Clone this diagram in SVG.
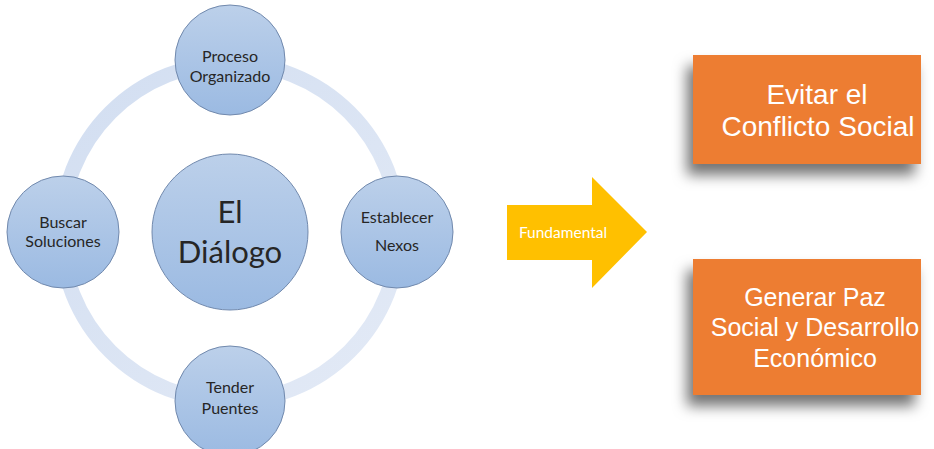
<svg xmlns="http://www.w3.org/2000/svg" width="934" height="449" viewBox="0 0 934 449">
<defs>
<linearGradient id="cg" x1="0" y1="0" x2="0" y2="1">
<stop offset="0" stop-color="#bcd0ea"/>
<stop offset="1" stop-color="#9bbae2"/>
</linearGradient>
<linearGradient id="rg" x1="0" y1="0" x2="1" y2="1">
<stop offset="0" stop-color="#d2def1"/>
<stop offset="1" stop-color="#e3eaf6"/>
</linearGradient>
<filter id="sh" x="-20%" y="-20%" width="140%" height="160%">
<feDropShadow dx="-6" dy="11" stdDeviation="7" flood-color="#000" flood-opacity="0.55"/>
</filter>
</defs>
<style>
.c{fill:url(#cg);stroke:#7189ad;stroke-width:1}
.t{font-family:Lato,"Open Sans",sans-serif;fill:#262626;text-anchor:middle}
.s{font-size:16px}
.b{font-size:31px}
.box{fill:#ed7d31;filter:url(#sh)}
.w{font-family:"Liberation Sans",Arial,sans-serif;fill:#fff;text-anchor:middle}
</style>
<rect width="934" height="449" fill="#fff"/>
<g id="connectors">
<circle cx="230" cy="232" r="169" fill="none" stroke="url(#rg)" stroke-width="15"/>
</g>
<g id="center">
<circle class="c" cx="230" cy="232" r="78"/>
<text class="t b" x="230" y="223">El</text>
<text class="t b" x="230" y="263">Diálogo</text>
</g>
<g id="top">
<circle class="c" cx="230" cy="60" r="55"/>
<text class="t s" x="230" y="62">Proceso</text>
<text class="t s" x="230" y="82">Organizado</text>
</g>
<g id="left">
<circle class="c" cx="63" cy="232" r="56"/>
<text class="t s" x="63" y="228">Buscar</text>
<text class="t s" x="63" y="247">Soluciones</text>
</g>
<g id="right">
<circle class="c" cx="397" cy="232" r="56"/>
<text class="t s" x="397" y="223">Establecer</text>
<text class="t s" x="397" y="251">Nexos</text>
</g>
<g id="bottom">
<circle class="c" cx="230" cy="401" r="55"/>
<text class="t s" x="230" y="393">Tender</text>
<text class="t s" x="230" y="414">Puentes</text>
</g>
<g id="arrow">
<polygon points="507,205 592,205 592,177 647,232 592,288 592,260 507,260" fill="#ffc000"/>
<text x="563" y="238" font-family="Lato,'Open Sans',sans-serif" font-size="15.5" fill="#fff" text-anchor="middle">Fundamental</text>
</g>
<g id="box1">
<rect class="box" x="693" y="55" width="228" height="109"/>
<text class="w" x="817" y="104" font-size="28">Evitar el</text>
<text class="w" x="818" y="136" font-size="28">Conflicto Social</text>
</g>
<g id="box2">
<rect class="box" x="693" y="259" width="228" height="136"/>
<text class="w" x="815" y="306" font-size="25">Generar Paz</text>
<text class="w" x="815" y="336" font-size="25">Social y Desarrollo</text>
<text class="w" x="815" y="367" font-size="25">Económico</text>
</g>
</svg>
